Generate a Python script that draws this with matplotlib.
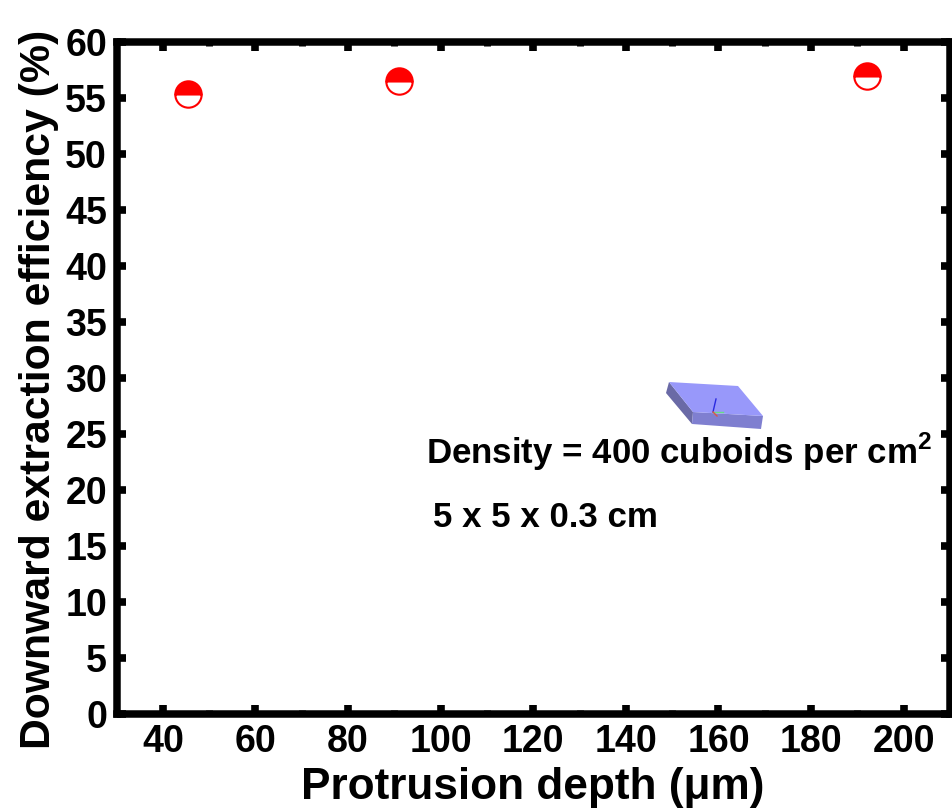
import matplotlib
matplotlib.use("Agg")
import matplotlib.pyplot as plt
from matplotlib.patches import Polygon

plt.rcParams["font.family"] = ["Liberation Sans", "DejaVu Sans"]
plt.rcParams["font.weight"] = "bold"
plt.rcParams["mathtext.fontset"] = "custom"
plt.rcParams["mathtext.bf"] = "Liberation Sans:bold"
plt.rcParams["mathtext.rm"] = "Liberation Sans:bold"

depth = [45.5, 91, 192]
efficiency = [55.4, 56.5, 57.0]
x_ticks = [40, 60, 80, 100, 120, 140, 160, 180, 200]
y_ticks = list(range(0, 65, 5))

# cuboid inset, in picture pixels
cuboid_top = [(669, 382), (738, 386), (763, 416), (693, 412)]
cuboid_left = [(669, 382), (666, 393), (692, 424), (693, 412)]
cuboid_front = [(693, 412), (692, 424), (761, 429), (763, 416)]

W, H = 953, 810
fig = plt.figure(figsize=(W / 100, H / 100), dpi=100)
ax = fig.add_axes([116.6 / W, 1 - 714 / H, (950 - 116.6) / W, (714 - 42) / H])

ax.plot(depth, efficiency, linestyle="none", marker="o", markersize=19,
        fillstyle="top", color="red", markerfacecoloralt="white",
        markeredgecolor="red", markeredgewidth=1.5, clip_on=False)

ax.set_xlim(30, 210)
ax.set_ylim(0, 60)
ax.set_xticks(x_ticks)
ax.set_yticks(y_ticks)
ax.set_xticks([50, 70, 90, 110, 130, 150, 170, 190], minor=True)
ax.tick_params(which="major", direction="in", top=True, right=True,
               length=6.2, width=5.5, labelsize=27, pad=7)
ax.tick_params(which="minor", direction="in", top=True, bottom=True,
               length=3.2, width=5)
for spine in ax.spines.values():
    spine.set_linewidth(5.4)

fig.text(533 / W, 1 - 787 / H, "Protrusion depth (μm)", fontsize=31.8,
         ha="center", va="center")
fig.text(39 / W, 1 - 389 / H, "Downward extraction efficiency (%)", fontsize=30.8,
         rotation=90, ha="center", va="center")

# overlay in pixel coords for the inset and the notes
over = fig.add_axes([0, 0, 1, 1], facecolor="none")
over.set_xlim(0, W)
over.set_ylim(H, 0)
over.axis("off")
over.add_patch(Polygon(cuboid_left, closed=True, fc="#6a6aa6", ec="none"))
over.add_patch(Polygon(cuboid_front, closed=True, fc="#7f7fd0", ec="none"))
over.add_patch(Polygon(cuboid_top, closed=True, fc="#9898fa", ec="none"))
over.plot([713, 716], [412, 399], color="#2a2ae0", lw=1)
over.plot([713, 723], [412, 412], color="#66dd88", lw=1)
over.plot([713, 717], [412, 416], color="#dd5544", lw=1)

over.text(426, 464, "Density = 400 cuboids per cm$^{2}$", fontsize=25.1,
          ha="left", va="baseline")
over.text(433, 527, "5 x 5 x 0.3 cm", fontsize=25.1, ha="left", va="baseline")

fig.savefig("out.png", dpi=100)
